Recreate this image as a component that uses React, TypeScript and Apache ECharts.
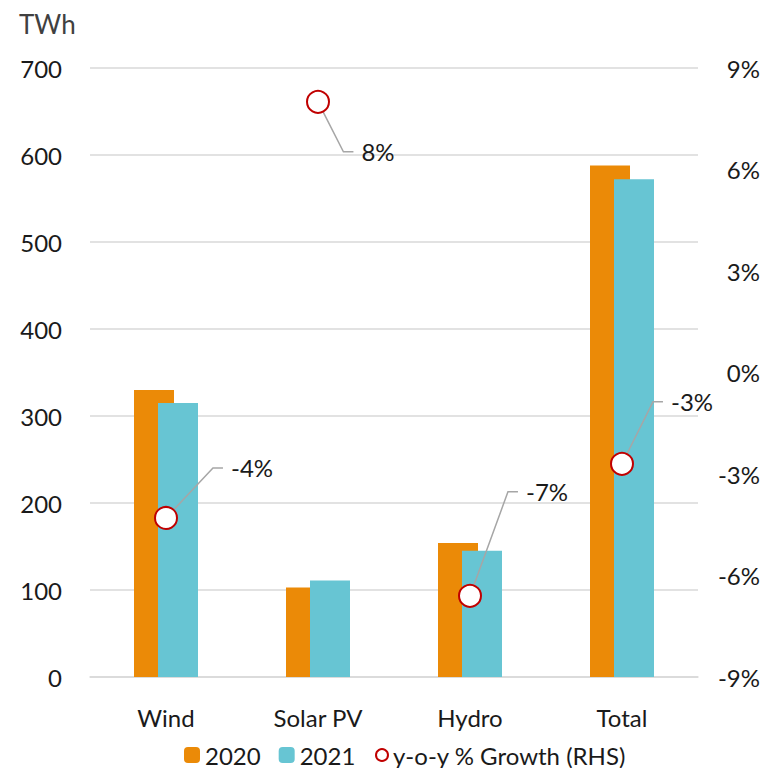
import React, { useEffect, useRef } from "react";
import * as echarts from "echarts";

const categories = ["Wind", "Solar PV", "Hydro", "Total"];
const values2020 = [330, 103, 154, 588];
const values2021 = [315, 111, 145, 572];
const growthPct = [-4.3, 8.0, -6.6, -2.7];
const leftTicks = { min: 0, max: 700, interval: 100 };
const rightTicks = { min: -9, max: 9, interval: 3 };

const FONT = "Lato, 'Noto Sans', sans-serif";
// label offsets (text centre relative to marker) - styling only
const labelOffsets = [
  { dx: 86, dy: -50 },
  { dx: 60, dy: 50 },
  { dx: 77, dy: -104 },
  { dx: 70, dy: -62 },
];
const PAD_L = 8;
const PAD_R = 40;

export default function App() {
  const ref = useRef<HTMLDivElement>(null);
  useEffect(() => {
    if (!ref.current) return;
    const chart = echarts.init(ref.current, undefined, { renderer: "svg" });
    const textColor = "#1a1a1a";
    const shift = (PAD_R - PAD_L) / 2;
    chart.setOption({
      animation: false,
      backgroundColor: "#ffffff",
      title: {
        text: "TWh",
        left: 14,
        top: 6,
        textStyle: { fontFamily: FONT, fontSize: 26, fontWeight: "normal", color: "#404040" },
      },
      grid: { left: 90, right: 68, top: 68, bottom: 91, containLabel: false },
      legend: [
        {
          data: ["2020", "2021"],
          left: 179,
          top: 738,
          itemWidth: 16,
          itemHeight: 16,
          itemGap: 18,
          textStyle: { fontFamily: FONT, fontSize: 24, color: textColor },
        },
        {
          data: ["y-o-y % Growth (RHS)"],
          left: 370,
          top: 738,
          itemWidth: 12,
          itemHeight: 12,
          textStyle: { fontFamily: FONT, fontSize: 24, color: textColor },
        },
      ],
      xAxis: {
        type: "category",
        data: categories,
        axisLine: { lineStyle: { color: "#d9d9d9", width: 1.5 } },
        axisTick: { show: false },
        axisLabel: { fontFamily: FONT, fontSize: 24, color: textColor, margin: 28 },
      },
      yAxis: [
        {
          type: "value",
          min: leftTicks.min,
          max: leftTicks.max,
          interval: leftTicks.interval,
          axisLine: { show: false },
          axisTick: { show: false },
          splitLine: { lineStyle: { color: "#d9d9d9", width: 1.5 } },
          axisLabel: { fontFamily: FONT, fontSize: 24, color: textColor, margin: 28 },
        },
        {
          type: "value",
          min: rightTicks.min,
          max: rightTicks.max,
          interval: rightTicks.interval,
          axisLine: { show: false },
          axisTick: { show: false },
          splitLine: { show: false },
          axisLabel: {
            fontFamily: FONT,
            fontSize: 24,
            color: textColor,
            margin: 62,
            align: "right",
            formatter: "{value}%",
          },
        },
      ],
      series: [
        {
          name: "2020",
          type: "bar",
          data: values2020,
          barWidth: 40,
          barGap: "-40%",
          itemStyle: { color: "#EB8A07" },
        },
        {
          name: "2021",
          type: "bar",
          data: values2021,
          barWidth: 40,
          barGap: "-40%",
          itemStyle: { color: "#67C5D3" },
        },
        {
          name: "y-o-y % Growth (RHS)",
          type: "scatter",
          yAxisIndex: 1,
          data: growthPct,
          symbol: "circle",
          symbolSize: 22,
          z: 5,
          itemStyle: { color: "#ffffff", borderColor: "#C00000", borderWidth: 2, opacity: 1 },
          label: {
            show: true,
            position: "inside",
            fontFamily: FONT,
            fontSize: 24,
            color: textColor,
            backgroundColor: "rgba(255,255,255,0)",
            padding: [0, PAD_R, 0, PAD_L],
            formatter: (p: any) => Math.round(p.value) + "%",
          },
          labelLine: {
            show: true,
            length2: 10,
            lineStyle: { color: "#a6a6a6", width: 1.5 },
          },
          labelLayout: (p: any) => ({
            dx: labelOffsets[p.dataIndex].dx + shift,
            dy: labelOffsets[p.dataIndex].dy,
          }),
        },
      ],
    });
    return () => chart.dispose();
  }, []);
  return <div ref={ref} style={{ width: 766, height: 768, position: "absolute", left: 0, top: 0 }} />;
}
